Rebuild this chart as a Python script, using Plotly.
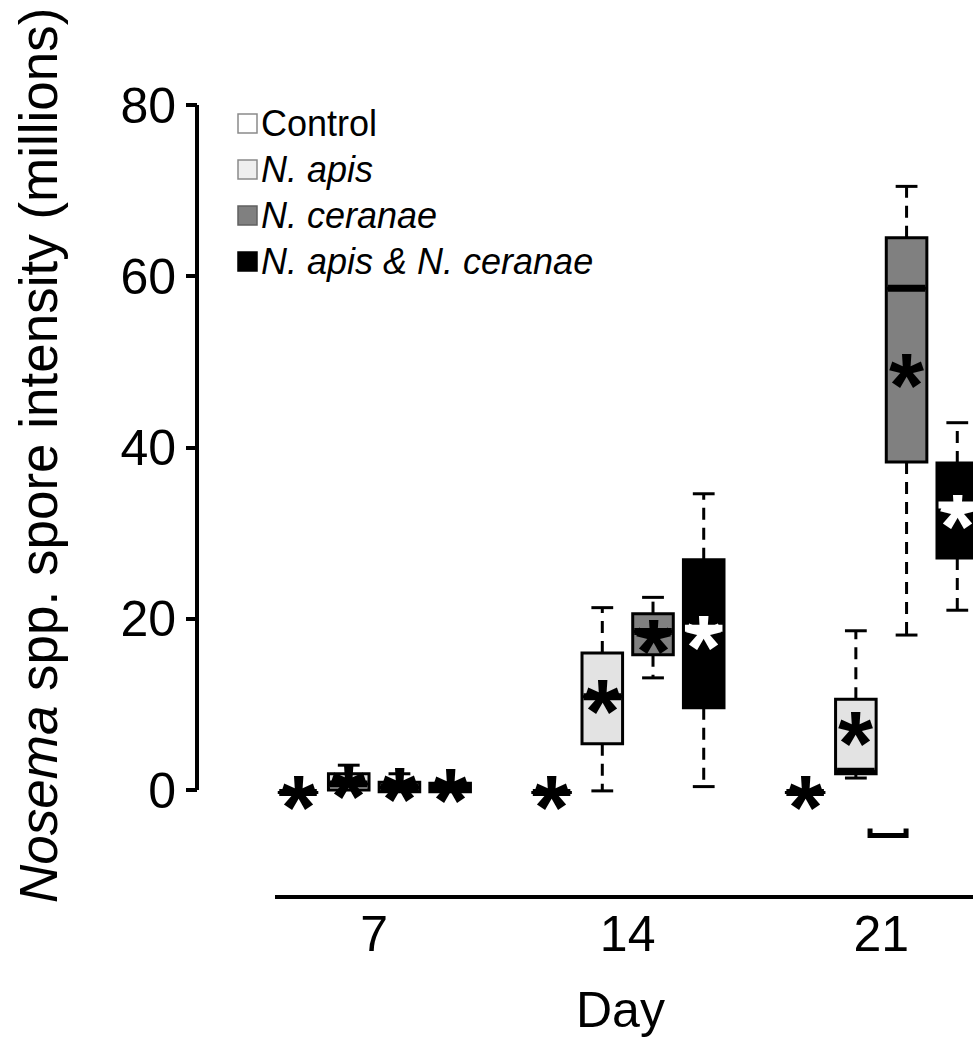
import plotly.graph_objects as go

# ---- data -------------------------------------------------------------
days = ["7", "14", "21"]
groups = ["Control", "N. apis", "N. ceranae", "N. apis & N. ceranae"]
group_labels = ["Control", "<i>N. apis</i>", "<i>N. ceranae</i>",
                "<i>N. apis &amp; N. ceranae</i>"]

# x slot of every box: four groups per day, one empty slot between days
positions = [1, 2, 3, 4, 6, 7, 8, 9, 11, 12, 13, 14]
group_of_box = [0, 1, 2, 3] * 3
day_tick_pos = [2.5, 7.5, 12.5]

# spore intensity summaries (millions), day 7 / 14 / 21, groups in order
lower  = [-0.3, 0.0, -0.2, -0.2, -0.3, -0.1, 13.1,  0.4, -0.3,  1.4, 18.1, 21.0]
q1     = [-0.3, 0.0, -0.2, -0.2, -0.3,  5.4, 15.8,  9.6, -0.3,  1.9, 38.3, 27.1]
median = [-0.3, 0.7,  0.3,  0.2, -0.3, 10.9, 18.5, 18.9, -0.3,  2.2, 58.6, 33.3]
q3     = [-0.3, 1.9,  0.9,  0.8, -0.3, 16.0, 20.6, 26.9, -0.3, 10.6, 64.5, 38.2]
upper  = [-0.3, 2.9,  1.9,  0.8, -0.3, 21.3, 22.5, 34.6, -0.3, 18.6, 70.5, 42.9]
mean   = [-0.7, 0.6,  0.2,  0.1, -0.7, 10.5, 17.5, 17.9, -0.7,  6.8, 48.5, 32.1]

# small bracket drawn under the day-21 boxes
bracket_x = [12.28, 12.99]
bracket_y = [-4.5, -5.3]

# ---- styles -----------------------------------------------------------
fills = ["#ffffff", "#e3e3e3", "#808080", "#000000"]
legend_fills = ["#ffffff", "#efefef", "#808080", "#000000"]
legend_edges = ["#8a8a8a", "#8a8a8a", "#606060", "#000000"]
median_colors = ["black", "black", "black", "black",
                 "black", "black", "black", "white",
                 "black", "black", "black", "white"]
mean_colors = median_colors
FONT = "Liberation Sans, Arial, sans-serif"
BOX_W = 0.8
CAP_HALF = 0.215
STAR_SIZE = 90

W, H = 973, 1038
M_L, M_R, M_T, M_B = 197, 0, 60, 143


def paper_x(px):
    return (px - M_L) / (W - M_L - M_R)


def paper_y(py):
    return (H - M_B - py) / (H - M_T - M_B)


fig = go.Figure()

# box bodies
for i, pos in enumerate(positions):
    g = group_of_box[i]
    fig.add_trace(go.Box(
        x=[pos], q1=[q1[i]], median=[median[i]], q3=[q3[i]],
        lowerfence=[q1[i]], upperfence=[q3[i]],
        width=BOX_W, whiskerwidth=0,
        fillcolor=fills[g],
        line=dict(color="black", width=3),
        showlegend=False, hoverinfo="skip",
    ))

# dashed whiskers and their caps
for i, pos in enumerate(positions):
    segs = []
    if upper[i] > q3[i]:
        segs.append((q3[i], upper[i]))
    if lower[i] < q1[i]:
        segs.append((q1[i], lower[i]))
    for start, end in segs:
        fig.add_trace(go.Scatter(
            x=[pos, pos], y=[start, end], mode="lines",
            line=dict(color="black", width=3, dash="12px,8px"),
            showlegend=False, hoverinfo="skip",
        ))
        fig.add_trace(go.Scatter(
            x=[pos - CAP_HALF, pos + CAP_HALF], y=[end, end], mode="lines",
            line=dict(color="black", width=3),
            showlegend=False, hoverinfo="skip",
        ))

# thick median bars
for i, pos in enumerate(positions):
    fig.add_trace(go.Scatter(
        x=[pos - BOX_W / 2 + 0.03, pos + BOX_W / 2 - 0.03],
        y=[median[i], median[i]], mode="lines",
        line=dict(color=median_colors[i], width=7),
        showlegend=False, hoverinfo="skip",
    ))

# bracket
fig.add_trace(go.Scatter(
    x=[bracket_x[0], bracket_x[0], bracket_x[1], bracket_x[1]],
    y=[bracket_y[0], bracket_y[1], bracket_y[1], bracket_y[0]],
    mode="lines", line=dict(color="black", width=5),
    showlegend=False, hoverinfo="skip",
))

annotations = []
# mean asterisks
for i, pos in enumerate(positions):
    annotations.append(dict(
        x=pos, y=mean[i], xref="x", yref="y", text="<b>*</b>", showarrow=False,
        font=dict(family=FONT, size=STAR_SIZE, color=mean_colors[i]),
        xanchor="center", yanchor="middle", yshift=-0.13 * STAR_SIZE,
    ))

# legend
row_y = [123, 169, 215, 261]
shapes = []
for k, label in enumerate(group_labels):
    cy = row_y[k]
    shapes.append(dict(
        type="rect", xref="paper", yref="paper",
        x0=paper_x(238), x1=paper_x(257), y0=paper_y(cy + 10), y1=paper_y(cy - 9),
        fillcolor=legend_fills[k], line=dict(color=legend_edges[k], width=1.5),
    ))
    annotations.append(dict(
        x=paper_x(259), y=paper_y(cy), xref="paper", yref="paper",
        text=label, showarrow=False, xanchor="left", yanchor="middle",
        font=dict(family=FONT, size=36, color="black"),
    ))

# axis titles
annotations.append(dict(
    x=paper_x(38), y=paper_y(456), xref="paper", yref="paper",
    text="<i>Nosema</i> spp. spore intensity (millions)", textangle=-90,
    showarrow=False, xanchor="center", yanchor="middle",
    font=dict(family=FONT, size=53, color="black"),
))
annotations.append(dict(
    x=paper_x(620), y=paper_y(1010), xref="paper", yref="paper",
    text="Day", showarrow=False, xanchor="center", yanchor="middle",
    font=dict(family=FONT, size=50, color="black"),
))

# y axis line spanning the tick range only
shapes.append(dict(
    type="line", xref="paper", yref="y", x0=0, x1=0, y0=0, y1=80,
    line=dict(color="black", width=4),
))

fig.update_layout(
    width=W, height=H,
    margin=dict(l=M_L, r=M_R, t=M_T, b=M_B),
    paper_bgcolor="white", plot_bgcolor="white",
    showlegend=False,
    shapes=shapes, annotations=annotations,
    xaxis=dict(
        domain=[paper_x(275), 1], range=[0.546, 14.31],
        tickvals=day_tick_pos, ticktext=days, ticks="",
        showline=True, linecolor="black", linewidth=4,
        showgrid=False, zeroline=False,
        tickfont=dict(family=FONT, size=50, color="black"),
        ticklabelstandoff=-8,
    ),
    yaxis=dict(
        anchor="free", position=0,
        range=[-12.26, 85.26],
        tickvals=[0, 20, 40, 60, 80],
        ticks="outside", ticklen=11, tickwidth=4, tickcolor="black",
        showline=False, showgrid=False, zeroline=False,
        tickfont=dict(family=FONT, size=50, color="black"),
    ),
)

fig.write_html("out.html")
